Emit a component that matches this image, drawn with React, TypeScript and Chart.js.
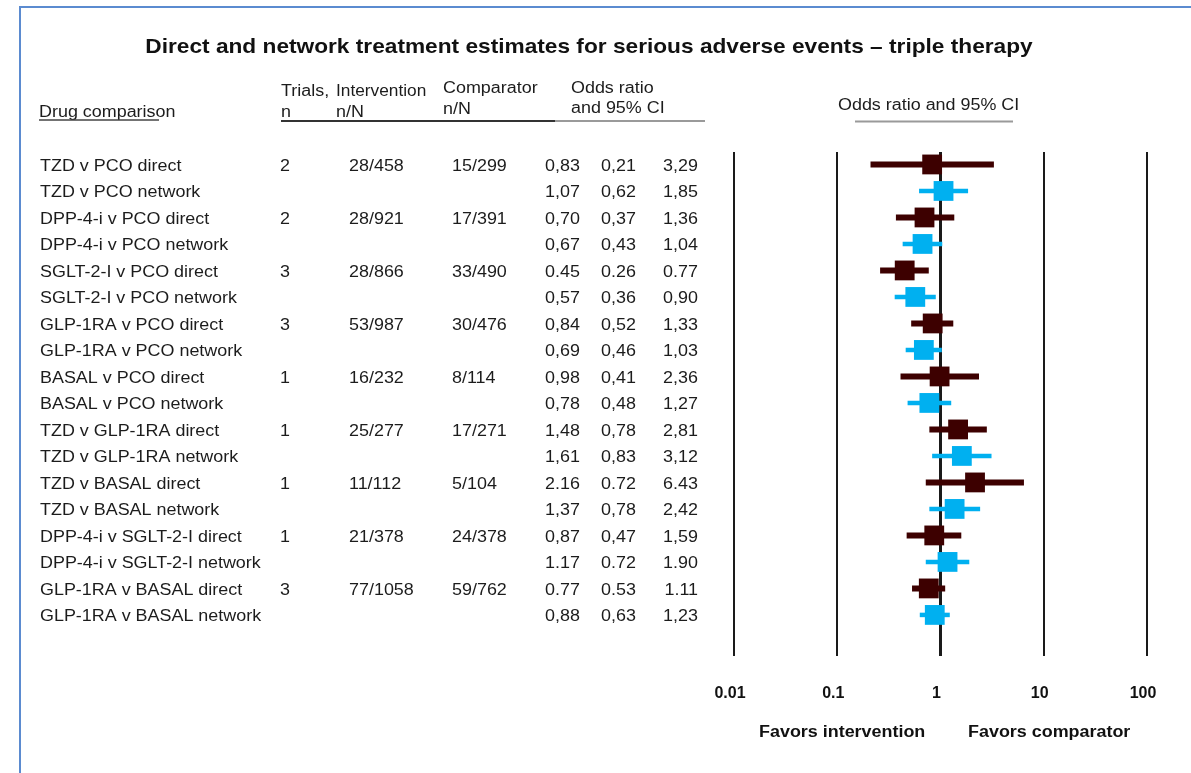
import { useEffect, useRef } from "react";
import { Chart, registerables } from "chart.js";

Chart.register(...registerables);

// ---- data ----
const comparisons = [
  "TZD v PCO direct",
  "TZD v PCO network",
  "DPP-4-i v PCO direct",
  "DPP-4-i v PCO network",
  "SGLT-2-I v PCO direct",
  "SGLT-2-I v PCO network",
  "GLP-1RA v PCO direct",
  "GLP-1RA v PCO network",
  "BASAL v PCO direct",
  "BASAL v PCO network",
  "TZD v GLP-1RA direct",
  "TZD v GLP-1RA network",
  "TZD v BASAL direct",
  "TZD v BASAL network",
  "DPP-4-i v SGLT-2-I direct",
  "DPP-4-i v SGLT-2-I network",
  "GLP-1RA v BASAL direct",
  "GLP-1RA v BASAL network",
];

const estimateKind = [
  "direct", "network", "direct", "network", "direct", "network",
  "direct", "network", "direct", "network", "direct", "network",
  "direct", "network", "direct", "network", "direct", "network",
];

const trialCounts = ["2", "", "2", "", "3", "", "3", "", "1", "", "1", "", "1", "", "1", "", "3", ""];

const interventionEvents = [
  "28/458", "", "28/921", "", "28/866", "", "53/987", "", "16/232", "",
  "25/277", "", "11/112", "", "21/378", "", "77/1058", "",
];

const comparatorEvents = [
  "15/299", "", "17/391", "", "33/490", "", "30/476", "", "8/114", "",
  "17/271", "", "5/104", "", "24/378", "", "59/762", "",
];

const oddsRatio = [0.83, 1.07, 0.7, 0.67, 0.45, 0.57, 0.84, 0.69, 0.98, 0.78, 1.48, 1.61, 2.16, 1.37, 0.87, 1.17, 0.77, 0.88];
const ciLower = [0.21, 0.62, 0.37, 0.43, 0.26, 0.36, 0.52, 0.46, 0.41, 0.48, 0.78, 0.83, 0.72, 0.78, 0.47, 0.72, 0.53, 0.63];
const ciUpper = [3.29, 1.85, 1.36, 1.04, 0.77, 0.9, 1.33, 1.03, 2.36, 1.27, 2.81, 3.12, 6.43, 2.42, 1.59, 1.9, 1.11, 1.23];
// decimal mark printed in each row of the table
const decimalMark = [",", ",", ",", ",", ".", ",", ",", ",", ",", ",", ",", ",", ".", ",", ",", ".", ".", ","];

const axisTicks = [0.01, 0.1, 1, 10, 100];
const axisTickLabels = ["0.01", "0.1", "1", "10", "100"];

const titleText = "Direct and network treatment estimates for serious adverse events \u2013 triple therapy";

const DIRECT_COLOR = "#3d0000";
const NETWORK_COLOR = "#00b0f0";
const TEXT_COLOR = "#1c1c1c";
const FONT = "'Liberation Sans', Arial, sans-serif";

function fmt(v: number, mark: string) {
  return v.toFixed(2).replace(".", mark);
}

function put(
  ctx: CanvasRenderingContext2D,
  text: string,
  x: number,
  y: number,
  font: string,
  align: CanvasTextAlign = "left",
  sx = 1.12,
  color = TEXT_COLOR
) {
  ctx.save();
  ctx.font = font;
  ctx.fillStyle = color;
  ctx.textBaseline = "alphabetic";
  ctx.textAlign = align;
  ctx.translate(x, y);
  ctx.scale(sx, 1);
  ctx.fillText(text, 0, 0);
  ctx.restore();
}

function hline(ctx: CanvasRenderingContext2D, x1: number, x2: number, y: number, color: string, w: number) {
  ctx.save();
  ctx.strokeStyle = color;
  ctx.lineWidth = w;
  ctx.beginPath();
  ctx.moveTo(x1, y);
  ctx.lineTo(x2, y);
  ctx.stroke();
  ctx.restore();
}

// Table text, headers and footer captions
const tablePlugin = {
  id: "forestTable",
  afterDraw(chart: any) {
    const ctx: CanvasRenderingContext2D = chart.ctx;
    const yScale = chart.scales.y;
    const body = `16px ${FONT}`;

    put(ctx, titleText, 589, 52.5, `bold 21px ${FONT}`, "center", 1.08, "#111");

    // column headers
    put(ctx, "Drug comparison", 39, 117, body);
    hline(ctx, 39, 159, 120, "#444", 1.5);
    put(ctx, "Trials,", 281, 96, body);
    put(ctx, "n", 281, 117, body);
    put(ctx, "Intervention", 336, 96, body, "left", 1.08);
    put(ctx, "n/N", 336, 117, body);
    put(ctx, "Comparator", 443, 93, body);
    put(ctx, "n/N", 443, 114, body);
    put(ctx, "Odds ratio", 571, 93, body);
    put(ctx, "and 95% CI", 571, 113, body);
    hline(ctx, 281, 555, 121, "#333", 2);
    hline(ctx, 555, 705, 121, "#9a9a9a", 2);

    put(ctx, "Odds ratio and 95% CI", 838, 110, body);
    hline(ctx, 855, 1013, 121.5, "#9a9a9a", 2);

    // rows
    comparisons.forEach((label, i) => {
      const yb = yScale.getPixelForValue(i) + 6.5;
      put(ctx, label, 40, yb, body);
      if (trialCounts[i]) put(ctx, trialCounts[i], 280, yb, body);
      if (interventionEvents[i]) put(ctx, interventionEvents[i], 349, yb, body);
      if (comparatorEvents[i]) put(ctx, comparatorEvents[i], 452, yb, body);
      put(ctx, fmt(oddsRatio[i], decimalMark[i]), 545, yb, body);
      put(ctx, fmt(ciLower[i], decimalMark[i]), 601, yb, body);
      put(ctx, fmt(ciUpper[i], decimalMark[i]), 698, yb, body, "right");
    });

    // direction captions under the axis
    const bold = `bold 16px ${FONT}`;
    put(ctx, "Favors intervention", 759, 736.5, bold, "left", 1.12, "#111");
    put(ctx, "Favors comparator", 968, 736.5, bold, "left", 1.12, "#111");
  },
};

export default function App() {
  const canvasRef = useRef<HTMLCanvasElement | null>(null);

  useEffect(() => {
    const canvas = canvasRef.current;
    if (!canvas) return;

    const ciSets = comparisons.map((_, i) => {
      const isDirect = estimateKind[i] === "direct";
      return {
        type: "line" as const,
        data: [
          { x: ciLower[i], y: i },
          { x: ciUpper[i], y: i },
        ],
        borderColor: isDirect ? DIRECT_COLOR : NETWORK_COLOR,
        borderWidth: isDirect ? 6 : 4.5,
        borderCapStyle: "butt" as const,
        pointRadius: 0,
        showLine: true,
        order: 2,
      };
    });

    const pointSet = (kind: string, color: string) => ({
      type: "scatter" as const,
      data: comparisons
        .map((_, i) => ({ x: oddsRatio[i], y: i, k: estimateKind[i] }))
        .filter((p) => p.k === kind)
        .map((p) => ({ x: p.x, y: p.y })),
      pointStyle: "rect" as const,
      pointRadius: 14,
      backgroundColor: color,
      borderColor: color,
      borderWidth: 0,
      order: 1,
    });

    const chart = new Chart(canvas, {
      type: "scatter",
      data: {
        datasets: [...ciSets, pointSet("direct", DIRECT_COLOR), pointSet("network", NETWORK_COLOR)] as any,
      },
      options: {
        responsive: false,
        animation: false,
        events: [],
        layout: { padding: { top: 152, left: 734, right: 44, bottom: 67 } },
        plugins: { legend: { display: false }, tooltip: { enabled: false } },
        scales: {
          x: {
            type: "logarithmic",
            min: 0.01,
            max: 100,
            border: { display: false },
            afterBuildTicks: (scale: any) => {
              scale.ticks = axisTicks.map((v) => ({ value: v, major: true }));
            },
            afterFit: (scale: any) => {
              scale.height = 50;
            },
            grid: {
              color: "#1a1a1a",
              lineWidth: (c: any) => (c.tick && c.tick.value === 1 ? 3 : 2),
              drawTicks: false,
            },
            ticks: {
              autoSkip: false,
              maxRotation: 0,
              padding: 28,
              labelOffset: -4,
              color: "#111",
              font: { family: FONT, size: 16, weight: "bold" },
              callback: (_v: any, idx: number) => axisTickLabels[idx],
            },
          },
          y: {
            type: "linear",
            display: false,
            reverse: true,
            min: -0.47,
            max: 18.55,
          },
        },
      },
      plugins: [tablePlugin],
    });

    return () => chart.destroy();
  }, []);

  return (
    <div style={{ position: "absolute", left: 0, top: 0, width: 1191, height: 773, background: "#fff", overflow: "hidden" }}>
      <div
        style={{
          position: "absolute",
          left: 19,
          top: 6,
          width: 1200,
          height: 800,
          borderLeft: "2px solid #5b8bd0",
          borderTop: "2px solid #5b8bd0",
        }}
      />
      <canvas ref={canvasRef} width={1191} height={773} style={{ position: "absolute", left: 0, top: 0 }} />
    </div>
  );
}
